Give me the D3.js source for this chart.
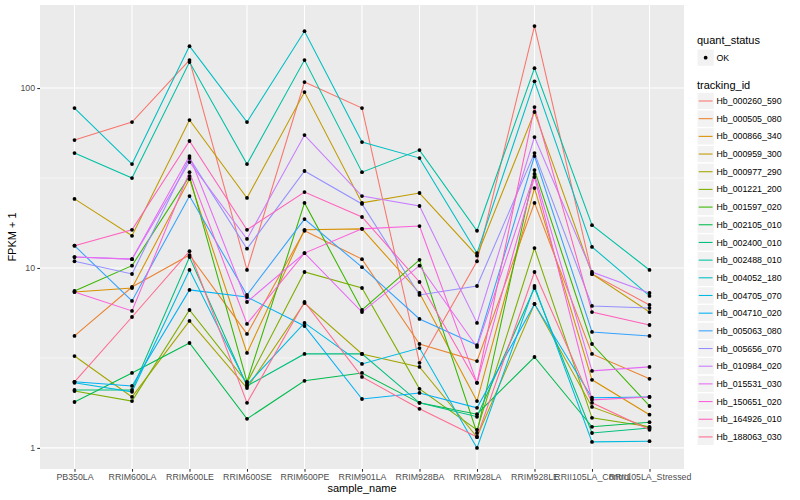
<!DOCTYPE html>
<html><head><meta charset="utf-8">
<script src="https://cdn.jsdelivr.net/npm/d3@7"></script>
<style>
body{margin:0;background:#fff}
text{font-family:"Liberation Sans",Arial,Helvetica,sans-serif}
</style>
</head><body><svg id="chart" width="800" height="500"></svg>
<script>
// ---- data ----
const samples = ["PB350LA","RRIM600LA","RRIM600LE","RRIM600SE","RRIM600PE","RRIM901LA","RRIM928BA","RRIM928LA","RRIM928LE","RRII105LA_Control","RRII105LA_Stressed"];
const trackingIds = ["Hb_000260_590","Hb_000505_080","Hb_000866_340","Hb_000959_300","Hb_000977_290","Hb_001221_200","Hb_001597_020","Hb_002105_010","Hb_002400_010","Hb_002488_010","Hb_004052_180","Hb_004705_070","Hb_004710_020","Hb_005063_080","Hb_005656_070","Hb_010984_020","Hb_015531_030","Hb_150651_020","Hb_164926_010","Hb_188063_030"];
const quantStatus = ["OK"];

const hb_000260_590 = [51.4, 64.7, 143, 9.75, 108, 77.4, 2.97, 10.9, 221, 9.26, 6.23];
const hb_000505_080 = [4.19, 7.84, 11.8, 4.30, 16.1, 11.2, 3.78, 3.04, 23.0, 3.33, 2.42];
const hb_000866_340 = [7.36, 7.74, 31.2, 3.37, 16.3, 16.5, 7.26, 1.82, 27.8, 2.39, 1.53];
const hb_000959_300 = [24.2, 15.1, 66.4, 24.5, 95, 23.0, 26.1, 11.7, 73.6, 9.26, 5.69];
const hb_000977_290 = [3.24, 1.92, 5.08, 2.15, 6.39, 3.33, 2.82, 1.15, 6.31, 1.69, 1.29];
const hb_001221_200 = [2.07, 1.82, 5.84, 2.30, 9.5, 7.74, 2.13, 1.26, 12.9, 1.47, 1.31];
const hb_001597_020 = [7.45, 10.3, 32.4, 2.33, 23.0, 5.84, 11.1, 1.21, 35.0, 3.78, 1.71];
const hb_002105_010 = [1.80, 2.61, 3.83, 1.45, 2.36, 2.61, 1.78, 1.54, 3.20, 1.31, 1.39];
const hb_002400_010 = [2.10, 2.10, 11.5, 2.21, 3.33, 3.33, 1.78, 1.49, 7.74, 1.21, 1.29];
const hb_002488_010 = [43.5, 31.6, 139.5, 37.8, 143, 34.1, 45.2, 16.1, 129, 17.3, 9.75];
const hb_004052_180 = [77.4, 37.8, 171, 64.7, 207, 50.1, 40.8, 12.1, 109, 13.1, 6.99];
const hb_004705_070 = [2.30, 2.05, 9.75, 2.24, 4.95, 2.93, 3.59, 1.00, 7.94, 1.08, 1.09];
const hb_004710_020 = [2.33, 2.21, 7.55, 6.90, 4.76, 1.87, 2.02, 1.67, 6.31, 1.90, 1.92];
const hb_005063_080 = [13.3, 6.56, 25.1, 7.08, 18.7, 10.1, 5.21, 3.73, 41.9, 4.41, 4.19];
const hb_005656_070 = [10.9, 9.26, 40.8, 12.8, 34.6, 22.7, 7.08, 7.94, 43.5, 6.15, 5.99];
const hb_010984_020 = [11.5, 11.2, 38.8, 14.5, 54.8, 25.1, 22.1, 4.95, 53.4, 9.5, 7.26];
const hb_015531_030 = [11.5, 11.2, 41.9, 6.47, 12.1, 5.69, 10.3, 3.64, 33.3, 2.68, 2.82];
const hb_150651_020 = [7.36, 5.77, 34.1, 4.89, 12.1, 16.5, 17.1, 2.30, 32.0, 1.85, 1.92];
const hb_164926_010 = [13.3, 16.3, 50.8, 16.3, 26.4, 19.2, 8.36, 2.30, 78.4, 5.69, 4.82];
const hb_188063_030 = [2.33, 5.34, 12.4, 1.78, 6.47, 2.48, 1.65, 1.15, 9.5, 1.78, 1.26];

const seriesValues = [hb_000260_590, hb_000505_080, hb_000866_340, hb_000959_300, hb_000977_290,
  hb_001221_200, hb_001597_020, hb_002105_010, hb_002400_010, hb_002488_010, hb_004052_180,
  hb_004705_070, hb_004710_020, hb_005063_080, hb_005656_070, hb_010984_020, hb_015531_030,
  hb_150651_020, hb_164926_010, hb_188063_030];

const yMajorTicks = [1, 10, 100];
const yMinorTicks = [3.1623, 31.623];

// ---- styles ----
const palette = ["#F8766D","#EA8331","#D89000","#C09B00","#A3A500","#7CAE00","#39B600","#00BB4E","#00BF7D","#00C1A3","#00BFC4","#00BAE0","#00B0F6","#35A2FF","#9590FF","#C77CFF","#E76BF3","#FA62DB","#FF62BC","#FF6C91"];

const svg = d3.select("#chart");
svg.append("rect").attr("width",800).attr("height",500).attr("fill","#fff");

const P = {left:40, right:684, top:5, bottom:469};

const all = seriesValues.flat();
const lmin = Math.log10(d3.min(all)), lmax = Math.log10(d3.max(all));
const pad = 0.05*(lmax-lmin);
const y = d3.scaleLog().domain([Math.pow(10,lmin-pad), Math.pow(10,lmax+pad)]).range([P.bottom, P.top]);
const x = d3.scalePoint().domain(samples).range([P.left, P.right]).padding(0.6);

// panel
svg.append("rect").attr("x",P.left).attr("y",P.top).attr("width",P.right-P.left).attr("height",P.bottom-P.top).attr("fill","#EBEBEB");
const grid = svg.append("g");
grid.selectAll("line.minor").data(yMinorTicks).enter().append("line")
  .attr("x1",P.left).attr("x2",P.right).attr("y1",d=>y(d)).attr("y2",d=>y(d))
  .attr("stroke","#fff").attr("stroke-width",0.53);
grid.selectAll("line.majy").data(yMajorTicks).enter().append("line")
  .attr("x1",P.left).attr("x2",P.right).attr("y1",d=>y(d)).attr("y2",d=>y(d))
  .attr("stroke","#fff").attr("stroke-width",1.07);
grid.selectAll("line.majx").data(samples).enter().append("line")
  .attr("y1",P.top).attr("y2",P.bottom).attr("x1",d=>x(d)).attr("x2",d=>x(d))
  .attr("stroke","#fff").attr("stroke-width",1.07);

// lines
const line = d3.line().x((d,i)=>x(samples[i])).y(d=>y(d));
svg.append("g").selectAll("path").data(seriesValues).enter().append("path")
  .attr("d",d=>line(d)).attr("fill","none")
  .attr("stroke",(d,i)=>palette[i]).attr("stroke-width",1.07);

// points
const pts = [];
seriesValues.forEach((s,si)=>s.forEach((v,i)=>pts.push({s:samples[i],v})));
svg.append("g").selectAll("circle").data(pts).enter().append("circle")
  .attr("cx",d=>x(d.s)).attr("cy",d=>y(d.v)).attr("r",1.9).attr("fill","#000");

// axes
const xAxis = svg.append("g").attr("transform",`translate(0,${P.bottom})`)
  .call(d3.axisBottom(x).tickSize(2.74).tickPadding(2.2));
const yAxis = svg.append("g").attr("transform",`translate(${P.left},0)`)
  .call(d3.axisLeft(y).tickValues(yMajorTicks).tickFormat(d3.format("d")).tickSize(2.74).tickPadding(2.2));
[xAxis,yAxis].forEach(a=>{
  a.select(".domain").remove();
  a.selectAll(".tick line").attr("stroke","#333333").attr("stroke-width",1.07);
  a.selectAll(".tick text").attr("fill","#4D4D4D").style("font-size","8.8px")
   .style("font-family","'Liberation Sans',Arial,sans-serif");
});

svg.append("text").attr("x",(P.left+P.right)/2).attr("y",492).attr("text-anchor","middle")
  .style("font-size","11px").attr("fill","#000").text("sample_name");
svg.append("text").attr("transform",`translate(16,${(P.top+P.bottom)/2}) rotate(-90)`)
  .attr("text-anchor","middle").style("font-size","11px").attr("fill","#000").text("FPKM + 1");

// legend
const L = svg.append("g");
const LX = 697, KW = 17.28;
L.append("text").attr("x",LX).attr("y",44).style("font-size","11px").text("quant_status");
L.append("rect").attr("x",LX).attr("y",49).attr("width",KW).attr("height",KW).attr("fill","#F2F2F2").attr("stroke","#fff");
L.append("circle").attr("cx",LX+KW/2).attr("cy",49+KW/2).attr("r",1.9).attr("fill","#000");
L.append("text").attr("x",716.5).attr("y",49+KW/2).attr("dy","0.35em").style("font-size","8.8px").text(quantStatus[0]);

L.append("text").attr("x",LX).attr("y",89).style("font-size","11px").text("tracking_id");
const step = 17.68, firstC = 101;
const keys = L.selectAll("g.key").data(trackingIds).enter().append("g")
  .attr("transform",(d,i)=>`translate(${LX},${firstC + i*step})`);
keys.append("rect").attr("x",0).attr("y",-KW/2).attr("width",KW).attr("height",KW)
  .attr("fill","#F2F2F2").attr("stroke","#fff").attr("stroke-width",1);
keys.append("line").attr("x1",1.7).attr("x2",KW-1.7).attr("y1",0).attr("y2",0)
  .attr("stroke",(d,i)=>palette[i]).attr("stroke-width",1.07);
keys.append("text").attr("x",19.5).attr("y",0).attr("dy","0.35em").style("font-size","8.8px").text(d=>d);
</script>
</body></html>
